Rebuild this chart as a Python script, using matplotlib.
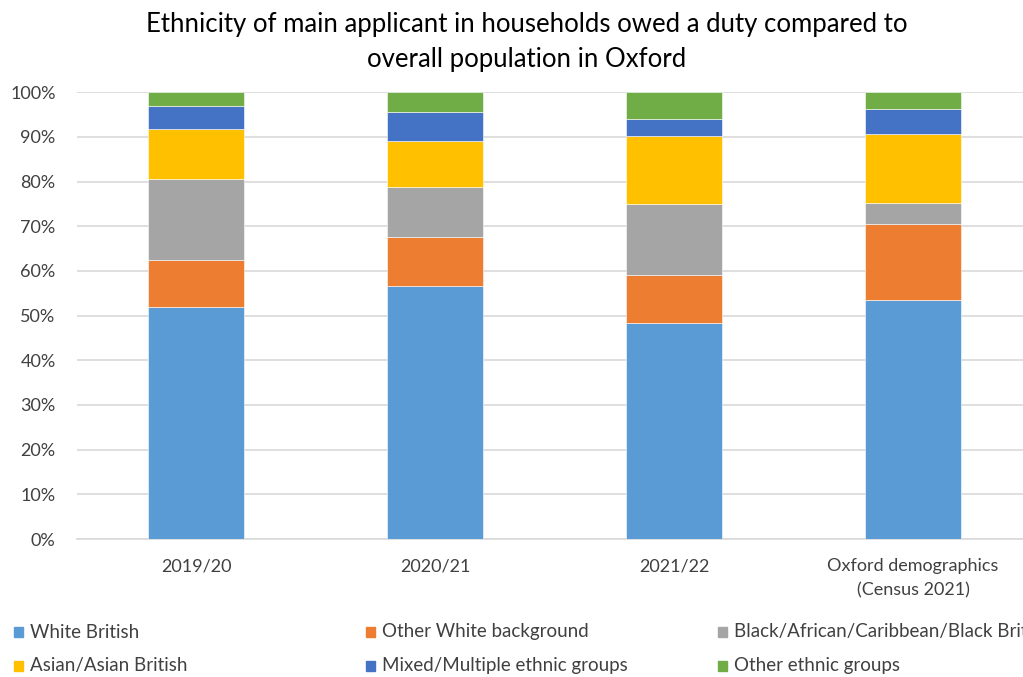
import numpy as np
import matplotlib
matplotlib.use('Agg')
import matplotlib.pyplot as plt
from matplotlib.patches import Rectangle

# ---------------------------------------------------------------
# data (percent share of each group)
# ---------------------------------------------------------------
categories = ["2019/20", "2020/21", "2021/22", "Oxford demographics\n(Census 2021)"]

white_british = [52.0, 56.7, 48.4, 53.4]
other_white = [10.5, 10.8, 10.8, 17.1]
black = [18.0, 11.3, 15.8, 4.8]
asian = [11.2, 10.4, 15.2, 15.4]
mixed = [5.2, 6.5, 3.8, 5.5]
other_ethnic = [3.1, 4.3, 6.0, 3.8]

series_names = ["White British", "Other White background", "Black/African/Caribbean/Black British",
                "Asian/Asian British", "Mixed/Multiple ethnic groups", "Other ethnic groups"]
series_values = [white_british, other_white, black, asian, mixed, other_ethnic]
colors = ['#5B9BD5', '#ED7D31', '#A5A5A5', '#FFC000', '#4472C4', '#70AD47']

plt.rcParams['font.family'] = ['Lato', 'DejaVu Sans']
text_color = '#404040'

fig = plt.figure(figsize=(10.23, 6.77), dpi=100)
fig.patch.set_facecolor('white')
ax = fig.add_axes([76.5 / 1023, 138 / 677, 956 / 1023, 446.7 / 677])

x = np.arange(len(categories))
bottom = np.zeros(len(categories))
for name, vals, col in zip(series_names, series_values, colors):
    vals = np.array(vals)
    ax.bar(x, vals, bottom=bottom, width=0.40, color=col, edgecolor='white', linewidth=0.4,
           label=name, zorder=3)
    bottom += vals

ax.set_xlim(-0.5, 3.5)
ax.set_ylim(0, 100)
ax.set_yticks(np.arange(0, 101, 10))
ax.set_yticklabels([str(v) + "%" for v in range(0, 101, 10)], fontsize=13, color=text_color)
ax.set_xticks(x)
ax.set_xticklabels(categories, fontsize=13, color=text_color, linespacing=1.6)
ax.tick_params(axis='both', length=0)
ax.tick_params(axis='x', pad=14)
ax.tick_params(axis='y', pad=15)

ax.grid(axis='y', color='#D9D9D9', linewidth=1.2, zorder=0)
for s in ['top', 'right', 'left']:
    ax.spines[s].set_visible(False)
ax.spines['bottom'].set_color('#D9D9D9')
ax.spines['bottom'].set_linewidth(1.2)

fig.text(527 / 1023, 1 - 42 / 677,
         "Ethnicity of main applicant in households owed a duty compared to\noverall population in Oxford",
         ha='center', va='center', fontsize=18.5, color='black', linespacing=1.5)

# -- manual legend: 3 columns x 2 rows, last column clipped by the figure edge --
col_x = [14, 366, 718]
row_y = [632, 666]
for i, (name, col) in enumerate(zip(series_names, colors)):
    cx = col_x[i % 3]
    cy = row_y[i // 3]
    fig.add_artist(Rectangle((cx / 1023, (677 - cy - 5) / 677), 9 / 1023, 10 / 677,
                             transform=fig.transFigure, color=col))
    fig.text((cx + 16) / 1023, (677 - cy) / 677, name, ha='left', va='center',
             fontsize=13.5, color=text_color)

plt.savefig("out.png", dpi=100)
